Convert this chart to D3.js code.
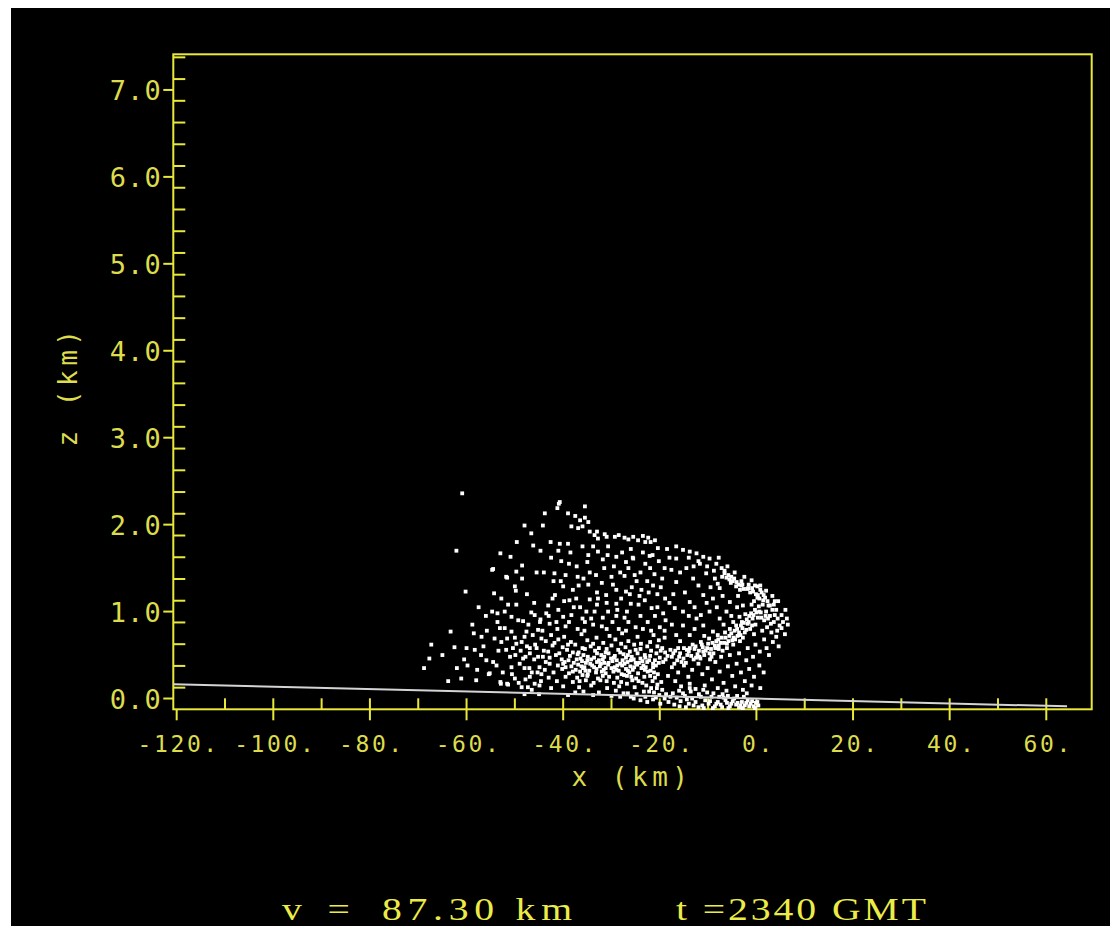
<!DOCTYPE html>
<html>
<head>
<meta charset="utf-8">
<script src="https://cdn.jsdelivr.net/npm/d3@7"></script>
<style>
  html, body { margin: 0; background: #fff; }
  svg { display: block; }
</style>
</head>
<body>
<div id="container"></div>
<script>
// axis ticks / labels
const xMajor = [-120, -100, -80, -60, -40, -20, 0, 20, 40, 60];
const xMajorLabels = ["-120.", "-100.", "-80.", "-60.", "-40.", "-20.", "0.", "20.", "40.", "60."];
const xMinor = [-110, -100, -90, -80, -70, -60, -50, -40, -30, -20, -10, 0, 10, 20, 30, 40, 50, 60];
const zMajor = [0, 1, 2, 3, 4, 5, 6, 7];
const zMajorLabels = ["0.0", "1.0", "2.0", "3.0", "4.0", "5.0", "6.0", "7.0"];
const zMinor = [0.125, 0.375, 0.625, 0.875, 1.125, 1.375, 1.625, 1.875, 2.125, 2.375, 2.625, 2.875,
  3.125, 3.375, 3.625, 3.875, 4.125, 4.375, 4.625, 4.875, 5.125, 5.375, 5.625, 5.875,
  6.125, 6.375, 6.625, 6.875, 7.125, 7.375];

// ground line (x km, z km)
const groundLine = [[-120.7, 0.165], [64.3, -0.09]];

// scattered particles, x (km), z (km)
const outerPts = [[-60.9,2.36],[-62.1,1.70],[-60.2,1.23],[-53.0,1.67],[-46.6,1.90],[-48.0,1.99],[-46.2,1.76],[-44.2,1.99],
  [-44.7,1.70],[-50.9,1.63],[-54.5,1.49],[-48.5,1.53],[-49.7,1.46],[-51.6,1.39],[-50.0,1.29],[-49.8,1.24],[-54.3,1.21],
  [-51.4,1.08],[-49.7,1.08],[-54.7,1.00],[-53.6,0.98],[-52.1,1.00],[-46.6,0.99],[-45.9,0.96],[-50.7,0.94],[-49.3,0.90],
  [-48.3,0.89],[-44.7,0.91],[-53.1,0.81],[-52.1,0.81],[-50.7,0.77],[-47.6,0.77],[-45.2,0.79],[-56.9,0.71],[-54.2,0.69],
  [-52.8,0.65],[-51.6,0.69],[-48.0,0.71],[-46.3,0.73],[-46.9,0.58],[-45.5,0.58],[-44.5,0.69],[-50.4,0.58],[-49.9,0.50],
  [-48.3,0.46],[-45.2,0.48],[-62.5,0.59],[-60.0,0.58],[-58.3,0.56],[-63.3,0.77],[-67.7,0.46],[-68.8,0.35],[-67.3,0.62],
  [-55.9,0.44],[-54.5,0.42],[-53.8,0.38],[-59.8,0.38],[-55.2,0.29],[-63.8,0.20],[-61.1,0.23],[-58.0,0.21],[-52.9,0.17],
  [-51.4,0.16],[-50.7,0.36],[-50.0,0.23],[-48.0,0.35],[-46.9,0.25],[-45.9,0.17],[-44.9,0.15],[-48.6,0.13],[-47.3,0.13],
  [-49.7,0.63],[-48.6,0.65],[-46.9,0.52],[-44.9,0.36],[-44.5,0.28],[-43.8,2.13],[-40.9,2.24],[-49.6,1.80],[-51.8,1.40],
  [-54.7,1.48],[-55.4,0.28],[-53.0,0.19],[-51.6,0.17],[-57.5,1.05],[-58.8,0.85],[-65.0,0.50],[-56.0,0.95],
  [-53.4,0.55],[-51.0,0.48],[-49.0,0.40],[-47.5,0.60],[-46.0,0.45],[-44.0,0.55],[-52.5,0.30],[-50.6,0.28],[-47.8,0.22],
  [-45.3,0.30],[-43.6,0.42],[-44.3,0.78],[-47.2,0.85],[-56.5,0.60],[-57.8,0.33],[-44.6,0.20],[-46.5,0.10],[-49.2,0.18],
  [-60.5,0.45],[-58.5,0.75],
  [-47.0,0.35],[-45.8,0.62],[-44.2,0.48],[-48.8,0.55],[-51.8,0.56],[-50.0,0.70],[-47.8,0.48],[-46.5,0.30],[-43.8,0.33],
  [-45.0,0.05],[-48.0,0.05],[-42.5,0.12],[-43.0,0.24],[-42.8,0.40],[-44.8,0.88],[-46.0,1.10],[-47.5,1.20],[-48.5,1.38],
  [-45.5,1.45],[-52.8,1.15],[-53.6,0.88],[-55.8,0.78],[-57.0,0.50],[-62.0,0.35]];

const capPts = [[-40.7,2.26],[-41.2,2.19],[-39.0,2.13],[-35.5,2.21],[-35.5,2.08],[-34.8,2.03],[-38.3,1.98],[-36.9,1.96],
  [-34.5,1.92],[-33.5,1.88],[-31.4,1.89],[-32.8,1.84],[-29.3,1.86],[-27.3,1.85],[-25.5,1.86],[-24.5,1.82],[-22.4,1.85],
  [-21.9,1.80],[-20.4,1.73],[-42.6,1.80],[-40.7,1.78],[-39.0,1.78],[-34.8,1.65],[-32.8,1.69],[-30.7,1.75],[-29.0,1.63],
  [-25.5,1.61],[-22.1,1.64],[-40.4,1.58],[-27.0,1.57],[-34.5,1.45],[-27.3,1.41],[-25.2,1.42],[-41.8,1.44],[-21.1,1.43],
  [-19.0,1.50],[-34.8,1.31],[-29.7,1.31],[-21.4,1.30],[-40.0,1.29],[-29.0,1.25],[-27.0,1.23],[-31.1,1.19],[-41.7,1.19],
  [-37.3,1.15],[-34.5,1.14],[-32.8,1.15],[-38.7,1.13],[-43.1,1.07],[-29.0,1.09],[-23.1,1.13],[-21.7,1.04],[-19.3,0.98],
  [-26.0,1.09],[-30.7,1.00],[-27.3,0.93],[-34.2,0.92],[-35.5,0.88],[-38.3,0.96],[-40.0,0.94],[-41.4,0.88],[-42.8,0.86],
  [-33.0,1.92],[-31.0,1.86],[-28.5,1.88],[-26.5,1.83],[-23.5,1.87],[-23.0,1.80],[-21.0,1.82],[-36.5,2.05],[-37.5,2.10],
  [-36.0,1.98],[-24.0,0.95],[-22.5,0.88],[-20.5,1.20],[-18.0,1.10],[-18.8,0.90],[-23.8,1.25],[-25.0,0.82],[-32.0,0.83],
  [-37.0,0.80],[-28.5,0.80],[-19.5,1.38],[-17.6,1.48],[-23.0,1.55],[-18.0,1.62],
  [-38.0,1.25],[-35.8,1.38],[-33.0,1.22],[-31.5,1.50],[-30.0,1.40],[-27.8,1.68],[-25.8,1.28],[-24.0,1.45],[-22.6,1.35],
  [-36.5,1.05],[-33.5,1.00],[-31.8,0.93],[-29.8,0.88],[-26.8,1.00],[-24.4,1.08],[-21.0,0.95],[-20.0,0.82],[-39.5,0.83],
  [-41.0,1.02],[-43.5,0.98],[-42.0,1.35],[-38.8,1.55],[-36.0,1.75],[-31.8,1.60],[-26.0,1.72],
  [-44.0,1.45],[-42.5,1.62],[-41.0,1.70],[-39.5,1.42],[-38.5,1.68],[-37.2,1.52],[-36.8,1.30],[-35.0,1.57],[-33.8,1.75],
  [-33.2,1.42],[-32.0,1.33],[-30.8,1.65],[-29.5,1.52],[-28.2,1.45],[-28.0,1.15],[-26.5,1.50],[-25.6,1.62],[-24.8,1.35],
  [-23.5,1.68],[-22.0,1.50],[-21.5,1.65],[-20.2,1.58],[-19.8,1.28],[-18.9,1.15],[-22.3,1.22],[-24.2,1.18],[-26.2,1.20],
  [-28.8,1.02],[-31.0,1.10],[-33.0,1.08],[-35.2,1.00],[-37.8,1.05],[-39.8,1.12],[-42.2,1.15],[-43.0,0.95],[-41.2,0.80],
  [-38.8,0.88],[-36.0,0.92],[-33.8,0.85],[-31.0,0.80],[-29.0,0.95],[-26.5,0.88],[-23.5,0.80],[-21.8,0.78],[-20.5,1.05],
  [-19.0,0.78],[-35.6,0.78],[-27.0,0.78],[-40.5,1.35],[-37.0,1.40]];

const corePts = [[-42.5,0.73],[-39.8,0.71],[-36.2,0.74],[-33.1,0.70],[-30.4,0.72],[-27.8,0.75],[-24.6,0.71],[-21.3,0.73],[-19.0,0.70],
  [-43.6,0.66],[-41.0,0.68],[-38.4,0.65],[-35.0,0.67],[-31.7,0.64],[-29.2,0.68],[-26.5,0.66],[-23.9,0.63],[-20.2,0.67],
  [-42.2,0.61],[-40.1,0.59],[-37.5,0.62],[-34.3,0.60],[-32.6,0.58],[-30.0,0.61],[-27.1,0.59],[-25.3,0.62],[-22.6,0.60],[-19.5,0.58],
  [-43.1,0.54],[-39.2,0.56],[-36.8,0.53],[-35.5,0.57],[-33.4,0.55],[-31.2,0.53],[-28.6,0.56],[-26.2,0.54],[-24.0,0.57],[-21.8,0.55],[-18.9,0.53],
  [-41.5,0.50],[-38.6,0.49],[-37.0,0.51],[-34.9,0.48],[-32.1,0.50],[-30.6,0.52],[-29.3,0.49],[-27.5,0.51],[-25.8,0.48],[-23.1,0.50],[-20.7,0.52],[-18.4,0.49],
  [-42.8,0.47],[-40.3,0.45],[-36.4,0.46],[-35.0,0.44],[-33.6,0.47],[-31.8,0.45],[-30.1,0.46],[-28.9,0.44],[-27.0,0.47],[-25.4,0.45],[-24.0,0.46],[-22.2,0.44],[-20.0,0.47],
  [-39.7,0.42],[-37.8,0.41],[-36.1,0.43],[-34.4,0.40],[-33.0,0.42],[-31.5,0.41],[-29.8,0.43],[-28.2,0.40],[-26.7,0.42],[-25.0,0.41],[-23.6,0.43],[-21.4,0.40],[-19.3,0.42],
  [-41.1,0.38],[-38.3,0.37],[-36.9,0.39],[-35.6,0.36],[-34.0,0.38],[-32.4,0.37],[-30.7,0.39],[-29.3,0.36],[-27.8,0.38],[-26.1,0.37],[-24.7,0.39],[-22.9,0.36],[-20.8,0.38],
  [-40.2,0.34],[-37.4,0.33],[-35.9,0.35],[-34.6,0.32],[-33.1,0.34],[-31.6,0.33],[-30.0,0.35],[-28.5,0.32],[-27.0,0.34],[-25.6,0.33],[-23.8,0.35],[-21.9,0.32],
  [-42.0,0.30],[-38.8,0.29],[-36.5,0.31],[-34.9,0.28],[-33.2,0.30],[-31.2,0.29],[-29.6,0.31],[-27.9,0.28],[-26.3,0.30],[-24.5,0.29],[-22.5,0.31],[-20.4,0.28],
  [-39.5,0.25],[-37.1,0.24],[-35.0,0.26],[-32.8,0.23],[-30.5,0.25],[-28.8,0.24],[-26.8,0.26],[-24.9,0.23],[-23.2,0.25],[-21.0,0.24],
  [-41.3,0.20],[-38.0,0.19],[-35.3,0.21],[-33.7,0.18],[-31.0,0.20],[-28.0,0.19],[-25.7,0.21],[-23.6,0.18],[-21.5,0.20],[-19.7,0.19],
  [-40.0,0.14],[-36.7,0.13],[-34.2,0.15],[-30.9,0.12],[-28.4,0.14],[-25.2,0.13],[-22.8,0.15],[-20.6,0.12],
  [-35.8,0.08],[-32.6,0.07],[-29.1,0.09],[-26.6,0.06],[-23.3,0.08],[-21.2,0.07],
  [-41.8,0.64],[-39.0,0.62],[-36.0,0.58],[-33.8,0.63],[-31.0,0.57],[-28.0,0.63],[-25.0,0.56],[-22.0,0.65],[-20.5,0.60],
  [-40.8,0.52],[-38.0,0.53],[-35.8,0.50],[-33.0,0.52],[-31.5,0.48],[-28.2,0.53],[-26.6,0.50],[-24.6,0.52],[-22.0,0.49],[-19.8,0.55],
  [-38.9,0.44],[-37.2,0.45],[-34.2,0.45],[-32.6,0.44],[-29.5,0.47],[-27.7,0.44],[-26.0,0.44],[-23.0,0.47],[-21.0,0.44],[-18.8,0.45],
  [-40.0,0.40],[-35.3,0.41],[-32.2,0.40],[-30.6,0.41],[-27.3,0.40],[-24.3,0.41],[-22.6,0.42],[-20.2,0.41],
  [-39.5,0.36],[-36.2,0.37],[-33.6,0.36],[-31.2,0.35],[-28.8,0.38],[-25.3,0.36],[-23.4,0.38],[-21.4,0.36],
  [-38.0,0.31],[-35.4,0.32],[-32.0,0.31],[-29.0,0.33],[-26.6,0.32],[-23.1,0.33],[-21.2,0.30],
  [-36.0,0.27],[-31.8,0.26],[-27.4,0.27],[-25.9,0.25],[-22.0,0.26],
  [-36.6,0.20],[-32.3,0.21],[-29.5,0.18],[-26.8,0.17],[-24.4,0.20],[-20.5,0.16]];

const bandPts = [[-17.5,0.48],[-17.0,0.40],[-16.4,0.44],[-15.8,0.52],[-15.1,0.46],[-14.6,0.41],[-14.0,0.54],[-13.5,0.49],
  [-12.8,0.57],[-12.2,0.51],[-11.6,0.46],[-11.1,0.59],[-10.5,0.55],[-10.0,0.63],[-9.4,0.57],[-8.9,0.52],[-8.3,0.66],
  [-7.8,0.61],[-7.2,0.70],[-6.7,0.64],[-6.1,0.58],[-5.6,0.72],[-5.0,0.67],[-4.5,0.78],[-3.9,0.72],[-3.4,0.66],[-2.9,0.81],
  [-2.4,0.76],[-1.8,0.86],[-1.3,0.80],[-0.8,0.92],[-0.2,0.85],[0.3,0.93],[0.9,0.99],[1.6,0.90],[2.0,1.00],[1.3,1.08],
  [2.5,1.07],[0.6,1.15],[1.8,1.16],[-0.1,1.20],[1.1,1.22],[-0.9,1.27],[0.2,1.29],[-1.6,1.31],[-2.6,1.26],[-3.1,1.35],
  [-3.7,1.31],[-4.6,1.38],[-5.3,1.33],[-5.8,1.42],[-6.6,1.47],[-7.1,1.40],
  [-3.0,0.88],[-1.5,0.95],[-0.3,1.02],[0.5,1.06],[-1.0,1.08],[2.8,0.95],[3.3,1.02],[-2.3,0.97],[-4.2,0.84],[-5.5,0.80],
  [3.0,0.86],[2.2,0.82],[1.2,0.78],[-0.5,0.74],[-6.5,0.76],[-8.0,0.73],[-9.8,0.69],[-11.5,0.65],[-13.2,0.62],[-15.0,0.58],
  [-16.8,0.55],[-10.8,0.50],[-13.0,0.45],[-8.5,0.58],[-7.0,0.55],[-4.8,0.62],[-2.8,0.70],
  [-17.2,0.52],[-16.0,0.48],[-15.5,0.42],[-14.3,0.50],[-13.8,0.58],[-12.5,0.47],[-11.9,0.55],[-11.3,0.62],[-10.2,0.58],
  [-9.7,0.52],[-9.1,0.64],[-8.6,0.61],[-7.9,0.68],[-7.4,0.64],[-6.4,0.70],[-5.8,0.66],[-5.2,0.75],[-4.7,0.70],[-4.0,0.80],
  [-3.6,0.76],[-3.2,0.84],[-2.6,0.87],[-2.0,0.91],[-1.6,0.88],[-1.1,0.98],[-0.6,0.96],[0.0,0.99],[0.6,1.00],[1.0,0.93],
  [1.9,0.95],[2.4,0.92],[2.3,1.12],[1.5,1.19],[0.8,1.25],[0.2,1.16],[-0.5,1.12],[-0.3,1.30],[-1.3,1.22],[-1.9,1.26],
  [-2.9,1.31],[-3.4,1.25],[-4.2,1.29],[-4.9,1.35],[-5.6,1.37],[-6.2,1.39],[3.6,1.08],[3.8,0.96],[3.6,0.88],[4.4,0.92],
  [4.8,0.84],[4.3,0.78],[3.8,1.12],[-0.9,0.84],[-2.1,0.79],[-3.3,0.73],[-4.4,0.68],[-6.1,0.63],[-7.8,0.57],[-9.3,0.48],
  [-11.0,0.54],[-12.6,0.60],[-14.4,0.56],[-16.2,0.58],[-17.8,0.56]];

const arcPts = [[-16.6,1.75],[-15.2,1.71],[-13.8,1.69],[-12.4,1.67],[-11.0,1.63],[-9.7,1.61],[-8.3,1.55],[-7.2,1.50],
  [-6.6,1.44],[-5.2,1.40],[-4.1,1.34],[-3.1,1.30],[-1.7,1.27],[-0.7,1.23],[0.3,1.19],[1.4,1.13],[2.8,1.07],[4.1,1.02],
  [5.2,0.96],[5.5,0.88],[5.2,0.81],[4.1,0.71],[3.4,0.65],[2.1,0.58],[0.7,0.54],[-0.7,0.48],[-2.1,0.44],
  [-18.5,1.72],[-14.0,1.62],[-12.0,1.58],[-10.2,1.52],[-8.8,1.47],[-7.8,1.62],[-6.0,1.52],[-4.5,1.45],[-2.5,1.40],
  [-1.0,1.36],[0.8,1.30],[2.0,1.24],[3.3,1.18],[4.5,1.12],[6.0,1.02],[6.3,0.92],[5.9,0.74],[4.6,0.60],[6.5,0.85],
  [-16.6,1.34],[-16.9,1.04],[-15.2,1.00],[-13.8,1.11],[-11.0,1.19],[-9.0,1.15],[-9.7,1.00],[-12.4,0.92],[-15.2,0.84],
  [-11.0,0.84],[-7.6,0.92],[-6.2,1.00],[-5.5,1.11],[-7.6,1.27],[-13.1,1.38],[-10.4,1.44],[-8.6,1.38],[-11.7,1.55],
  [-14.5,1.50],[-16.6,1.61],[-9.0,0.77],[-13.8,0.73],[-16.6,0.73],[-3.5,0.94],[-2.8,1.07],[-4.8,0.88],
  [-14.0,0.95],[-12.8,1.05],[-11.5,0.96],[-10.3,1.10],[-8.2,1.05],[-7.0,1.18],[-6.8,0.85],[-5.2,0.95],[-4.0,1.05],
  [-3.8,1.18],[-8.0,1.32],[-9.5,1.28],[-12.0,1.30],[-14.8,1.22],[-15.8,1.45],[-13.0,1.52],[-10.8,0.72],[-12.8,0.80],
  [-15.8,0.66],[-17.5,0.85],[-17.2,1.20]];

const basePts = [[-17.5,0.36],[-16.2,0.30],[-15.0,0.38],[-14.1,0.25],[-13.3,0.33],[-12.0,0.40],[-11.2,0.28],[-10.1,0.35],
  [-9.2,0.22],[-8.5,0.42],[-7.6,0.31],[-6.8,0.18],[-5.9,0.37],[-5.0,0.26],[-4.1,0.40],[-3.2,0.30],[-2.4,0.20],[-1.5,0.34],
  [-0.5,0.25],[0.6,0.38],[1.5,0.30],[-16.8,0.20],[-15.6,0.14],[-13.8,0.17],[-12.6,0.11],[-10.7,0.15],[-8.0,0.12],
  [-6.2,0.09],[-4.4,0.14],[-2.8,0.10],[-1.0,0.15],[0.8,0.12],[-18.3,0.26],[-11.8,0.48],[-9.6,0.45],[-7.3,0.48],
  [-5.5,0.50],[-3.6,0.52],[-1.8,0.58],[-0.2,0.62],[1.6,0.68],[3.1,0.76],[2.6,0.50],
  [-24.8,0.05],[-23.0,0.02],[-21.4,-0.01],[-20.1,0.04],[-19.0,0.00],[-18.2,-0.04],[-17.3,0.06],[-16.5,0.01],[-15.7,-0.03],
  [-14.8,0.03],[-14.0,-0.06],[-13.3,0.00],[-12.6,-0.04],[-11.9,0.05],[-11.2,-0.08],[-10.6,-0.02],[-9.9,-0.06],[-9.3,0.02],
  [-8.6,-0.09],[-8.0,-0.04],[-7.4,-0.07],[-6.8,0.01],[-6.1,-0.05],[-5.5,-0.09],[-4.9,-0.03],[-4.2,-0.07],[-3.6,-0.10],
  [-3.0,-0.04],[-2.4,-0.08],[-1.8,-0.02],[-1.2,-0.06],[-0.6,-0.09],[-0.1,-0.05],[0.4,-0.08],[-13.6,0.08],[-10.2,0.07],
  [-7.0,0.05],[-4.0,0.03],[-2.0,0.06],[-16.0,0.09],[-19.5,0.10],[-22.2,0.08],[-26.0,0.02],[-27.5,0.06],[-12.0,-0.10],
  [-9.0,-0.11],[-5.8,-0.11],[-2.8,-0.11],
  [-14.4,-0.01],[-13.0,-0.08],[-11.5,0.02],[-10.9,-0.11],[-9.6,-0.03],[-8.3,-0.06],[-7.7,0.02],[-7.1,-0.10],[-6.4,-0.02],
  [-5.2,-0.06],[-4.6,0.00],[-3.9,-0.05],[-3.3,-0.08],[-2.1,-0.05],[-1.5,-0.09],[-0.9,-0.03],[-0.3,-0.11],[0.2,-0.04],
  [-8.9,0.06],[-5.9,0.03],[-11.0,0.10],[-15.2,0.06],[-17.8,0.02],[-20.8,0.01],[-2.6,0.02],
  [-30.0,0.03],[-28.2,0.02],[-25.4,0.00],[-24.0,-0.02],[-22.6,-0.04],[-21.8,0.12],[-19.9,-0.06],[-18.7,0.05],[-17.0,-0.07],
  [-15.9,-0.09],[-14.6,-0.10],[-13.8,0.12],[-33.8,0.04],[-37.5,0.07],[-39.0,0.04]];

const footer = ["v =", "87.30 km", "t =2340 GMT"];

const W = 1119, H = 932;
const yellow = "#e8e83a", labelYellow = "#dcdc4c";

const svg = d3.select("#container").append("svg")
  .attr("width", W).attr("height", H);

svg.append("rect").attr("x", 11).attr("y", 8).attr("width", 1099).attr("height", 918).attr("fill", "#000");

const x = d3.scaleLinear().domain([-120.7, 69.4]).range([173.3, 1091.7]);
const z = d3.scaleLinear().domain([-0.124, 7.41]).range([709.3, 54.3]);

// frame
svg.append("rect")
  .attr("x", x(-120.7)).attr("y", z(7.41))
  .attr("width", x(69.4) - x(-120.7)).attr("height", z(-0.124) - z(7.41))
  .attr("fill", "none").attr("stroke", yellow).attr("stroke-width", 2);

const axisG = svg.append("g").attr("stroke", yellow).attr("stroke-width", 2);
const x0 = z.range()[0];
axisG.selectAll(".xminor").data(xMinor).enter().append("line")
  .attr("x1", d => x(d)).attr("x2", d => x(d)).attr("y1", x0).attr("y2", x0 - 11);
axisG.selectAll(".xmajor").data(xMajor).enter().append("line")
  .attr("x1", d => x(d)).attr("x2", d => x(d)).attr("y1", x0).attr("y2", x0 + 11);
const y0 = x.range()[0];
axisG.selectAll(".zminor").data(zMinor).enter().append("line")
  .attr("x1", y0).attr("x2", y0 + 12).attr("y1", d => z(d)).attr("y2", d => z(d));
axisG.selectAll(".zmajor").data(zMajor).enter().append("line")
  .attr("x1", y0 - 10).attr("x2", y0).attr("y1", d => z(d)).attr("y2", d => z(d));

const mono = "'DejaVu Sans Mono', 'Liberation Mono', monospace";

svg.selectAll(".xlab").data(xMajor).enter().append("text")
  .attr("x", d => x(d) + 2).attr("y", 752)
  .attr("text-anchor", "middle")
  .attr("font-family", mono).attr("font-size", 23).attr("letter-spacing", 2.6)
  .attr("fill", labelYellow)
  .text((d, i) => xMajorLabels[i]);

svg.selectAll(".zlab").data(zMajor).enter().append("text")
  .attr("x", 162).attr("y", d => z(d) + 10)
  .attr("text-anchor", "end")
  .attr("font-family", mono).attr("font-size", 27).attr("letter-spacing", 1.2)
  .attr("fill", labelYellow)
  .text((d, i) => zMajorLabels[i]);

svg.append("text")
  .attr("x", 632).attr("y", 786)
  .attr("text-anchor", "middle")
  .attr("font-family", mono).attr("font-size", 26).attr("letter-spacing", 4.5)
  .attr("fill", labelYellow)
  .text("x (km)");

svg.append("text")
  .attr("transform", "translate(77,386) rotate(-90)")
  .attr("text-anchor", "middle")
  .attr("font-family", mono).attr("font-size", 26).attr("letter-spacing", 4.5)
  .attr("fill", labelYellow)
  .text("z (km)");

// particles
const allPts = [].concat(outerPts, capPts, corePts, bandPts, arcPts, basePts);
svg.append("g").selectAll("rect").data(allPts).enter().append("rect")
  .attr("x", d => x(d[0]) - 1.9).attr("y", d => z(d[1]) - 1.9)
  .attr("width", 3.8).attr("height", 3.8)
  .attr("fill", "#fff");

svg.append("path")
  .datum(groundLine)
  .attr("d", d3.line().x(d => x(d[0])).y(d => z(d[1])))
  .attr("fill", "none").attr("stroke", "#d4d4d4").attr("stroke-width", 2);

// footer (wide serif face, stretched horizontally)
const stretch = 1.28;
const footPos = [[282, 68], [382, 190], [676, 250]];
svg.selectAll(".foot").data(footer).enter().append("text")
  .attr("transform", (d, i) => `translate(${footPos[i][0]},920) scale(${stretch},1)`)
  .attr("textLength", (d, i) => footPos[i][1] / stretch)
  .attr("lengthAdjust", "spacing")
  .attr("font-family", "'Liberation Serif', 'DejaVu Serif', serif")
  .attr("font-size", 31)
  .attr("fill", "#ecec48")
  .text(d => d);
</script>
</body>
</html>
